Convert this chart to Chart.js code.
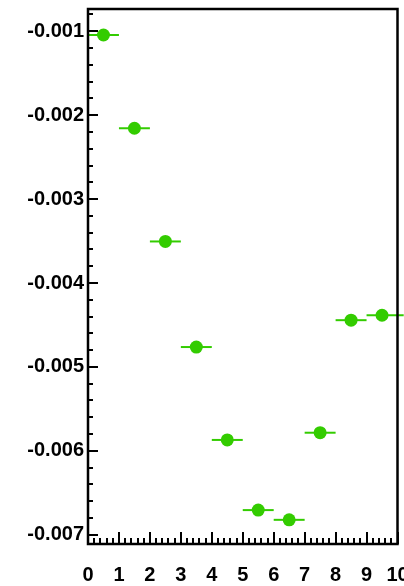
<!DOCTYPE html>
<html>
<head>
<meta charset="utf-8">
<script src="https://cdn.jsdelivr.net/npm/chart.js@4"></script>
<style>
  html, body { margin: 0; padding: 0; background: #fff; }
  #wrap { width: 404px; height: 586px; }
</style>
</head>
<body>
<div id="wrap"><canvas id="chart" width="404" height="586"></canvas></div>
<script>
// Data
const xCenters = [0.5, 1.5, 2.5, 3.5, 4.5, 5.5, 6.5, 7.5, 8.5, 9.5];
const yValues = [-0.001045, -0.002156, -0.003505, -0.004763, -0.005870,
                 -0.006706, -0.006822, -0.005784, -0.004443, -0.004384];
const xErrLow = [0.5, 0.5, 0.5, 0.5, 0.5, 0.5, 0.5, 0.5, 0.5, 0.5];
const xErrHigh = [0.5, 0.5, 0.5, 0.5, 0.5, 0.5, 0.5, 0.5, 0.5, 0.7];

// Axis ticks
const xTickValues = [0, 1, 2, 3, 4, 5, 6, 7, 8, 9, 10];
const xTickLabels = ['0', '1', '2', '3', '4', '5', '6', '7', '8', '9', '10'];
const yTickValues = [-0.001, -0.002, -0.003, -0.004, -0.005, -0.006, -0.007];
const yTickLabels = ['-0.001', '-0.002', '-0.003', '-0.004', '-0.005', '-0.006', '-0.007'];

const GREEN = 'rgb(51, 204, 0)';
const FONT = { family: "'Liberation Sans', Arial, Helvetica, sans-serif", size: 20, weight: 'bold' };

// Horizontal error bars, drawn under the markers
const errorBars = {
    id: 'errorBars',
    beforeDatasetsDraw(chart) {
        const ctx = chart.ctx;
        const xs = chart.scales.x;
        const ys = chart.scales.y;
        ctx.save();
        ctx.strokeStyle = GREEN;
        ctx.lineWidth = 2;
        xCenters.forEach((x, i) => {
            const py = ys.getPixelForValue(yValues[i]);
            ctx.beginPath();
            ctx.moveTo(xs.getPixelForValue(x - xErrLow[i]), py);
            ctx.lineTo(xs.getPixelForValue(x + xErrHigh[i]), py);
            ctx.stroke();
        });
        ctx.restore();
    }
};

// ROOT style frame with inward ticks
const frame = {
    id: 'frame',
    afterDraw(chart) {
        const ctx = chart.ctx;
        const a = chart.chartArea;
        const xs = chart.scales.x;
        const ys = chart.scales.y;
        ctx.save();
        ctx.strokeStyle = '#000';
        ctx.lineWidth = 2.5;
        ctx.strokeRect(a.left, a.top, a.right - a.left, a.bottom - a.top);

        ctx.lineWidth = 2;
        ctx.beginPath();
        // x ticks: major every 1, minor every 0.2
        for (let k = 0; k <= 50; k++) {
            const px = Math.round(xs.getPixelForValue(k * 0.2));
            const len = (k % 5 === 0) ? 12 : 6;
            ctx.moveTo(px, a.bottom);
            ctx.lineTo(px, a.bottom - len);
        }
        // y ticks: major every 0.001, minor every 0.0002
        for (let m = -36; m <= -3; m++) {
            const v = m * 0.0002;
            if (v > ys.max || v < ys.min) continue;
            const py = Math.round(ys.getPixelForValue(v));
            const len = (m % 5 === 0) ? 10 : 5;
            ctx.moveTo(a.left, py);
            ctx.lineTo(a.left + len, py);
        }
        ctx.stroke();
        ctx.restore();
    }
};

new Chart(document.getElementById('chart'), {
    type: 'scatter',
    data: {
        datasets: [{
            data: xCenters.map((x, i) => ({ x: x, y: yValues[i] })),
            backgroundColor: GREEN,
            borderColor: GREEN,
            pointRadius: 6.5,
            pointBorderWidth: 0
        }]
    },
    options: {
        responsive: false,
        animation: false,
        events: [],
        layout: { padding: { top: 9, right: 6, left: 0, bottom: 0 } },
        plugins: {
            legend: { display: false },
            tooltip: { enabled: false }
        },
        scales: {
            x: {
                type: 'linear',
                min: 0,
                max: 10,
                border: { display: false },
                grid: { display: false, drawTicks: false },
                afterFit(scale) {
                    scale.height = 42;
                    scale.paddingLeft = 0;
                    scale.paddingRight = 0;
                },
                afterBuildTicks(scale) {
                    scale.ticks = xTickValues.map(v => ({ value: v }));
                },
                ticks: {
                    color: '#000',
                    font: FONT,
                    padding: 19,
                    maxRotation: 0,
                    autoSkip: false,
                    callback: (v, i) => xTickLabels[i]
                }
            },
            y: {
                type: 'linear',
                min: -0.00711,
                max: -0.000735,
                border: { display: false },
                grid: { display: false, drawTicks: false },
                afterFit(scale) {
                    scale.width = 88;
                    scale.paddingTop = 0;
                    scale.paddingBottom = 0;
                },
                afterBuildTicks(scale) {
                    scale.ticks = yTickValues.map(v => ({ value: v }));
                },
                ticks: {
                    color: '#000',
                    font: FONT,
                    padding: 4,
                    autoSkip: false,
                    callback: (v, i) => yTickLabels[i]
                }
            }
        }
    },
    plugins: [errorBars, frame]
});
</script>
</body>
</html>
